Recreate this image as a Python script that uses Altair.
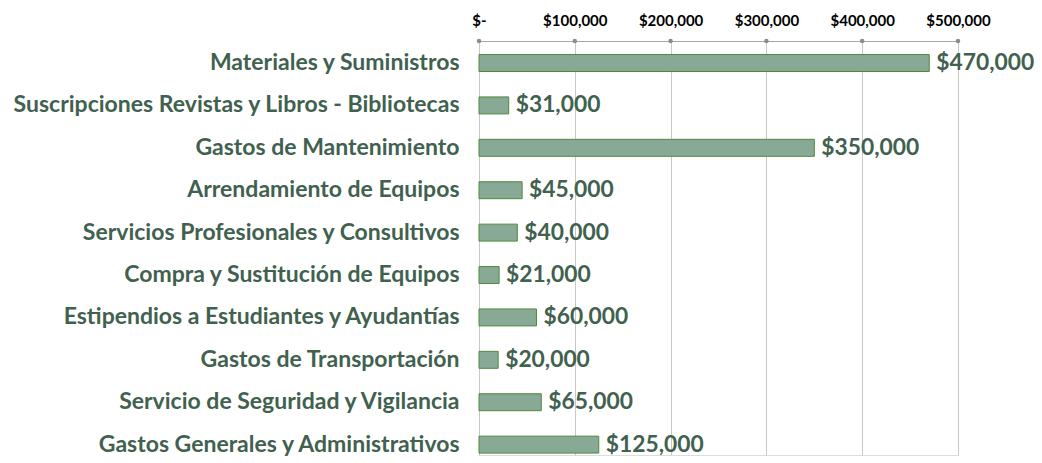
import altair as alt
import pandas as pd

categories = [
    "Materiales y Suministros",
    "Suscripciones Revistas y Libros - Bibliotecas",
    "Gastos de Mantenimiento ",
    "Arrendamiento de Equipos ",
    "Servicios Profesionales y Consultivos ",
    "Compra y Sustitución de Equipos ",
    "Estipendios a Estudiantes y Ayudantías ",
    "Gastos de Transportación ",
    "Servicio de  Seguridad y Vigilancia",
    "Gastos Generales y Administrativos",
]
values = [470000, 31000, 350000, 45000, 40000, 21000, 60000, 20000, 65000, 125000]
tick_values = [0, 100000, 200000, 300000, 400000, 500000]

df = pd.DataFrame({"cat": categories, "val": values})
df["label"] = df["val"].map(lambda v: "${:,.0f}".format(v))
ticks = pd.DataFrame({"t": tick_values})

FONT = "Lato"
GREEN_TXT = "#41614f"

x_scale = alt.Scale(domain=[0, 500000], nice=False)
y_enc = alt.Y("cat:N", sort=categories,
              scale=alt.Scale(paddingInner=0.6, paddingOuter=0.182, align=0.877),
              axis=alt.Axis(title=None, domain=False, ticks=False, labelPadding=20,
                            labelFont=FONT, labelFontSize=23, labelFontWeight="bold",
                            labelColor=GREEN_TXT, labelLimit=700))

bars = alt.Chart(df).mark_bar(color="#88a996", stroke="#4e8a38", strokeWidth=1).encode(
    x=alt.X("val:Q", scale=x_scale,
            axis=alt.Axis(orient="top", title=None, values=tick_values,
                          labelExpr="datum.value == 0 ? '$-' : '$' + format(datum.value, ',.0f')",
                          labelFont=FONT, labelFontSize=15, labelFontWeight="bold",
                          labelColor="#000000", labelPadding=13, labelOverlap=False,
                          labelFlush=False,
                          domainColor="#a6a6a6", tickColor="#a6a6a6", tickSize=0,
                          grid=True, gridColor="#c8c8c8")),
    y=y_enc,
)

text = alt.Chart(df).mark_text(align="left", dx=7, font=FONT, fontSize=22.8,
                               fontWeight="bold", color=GREEN_TXT).encode(
    x=alt.X("val:Q", scale=x_scale),
    y=alt.Y("cat:N", sort=categories),
    text="label:N",
)

dots = alt.Chart(ticks).mark_point(filled=True, color="#8c8c8c", size=20, opacity=1).encode(
    x=alt.X("t:Q", scale=x_scale),
    y=alt.value(0),
)

chart = alt.layer(bars, text, dots).properties(
    width=479, height=414,
    autosize=alt.AutoSizeParams(type="none"),
    padding={"left": 471, "top": 33, "right": 76, "bottom": 4},
).configure_view(stroke=None).configure(background="white")

chart.save("out.html", embed_options={"renderer": "svg", "actions": False})
